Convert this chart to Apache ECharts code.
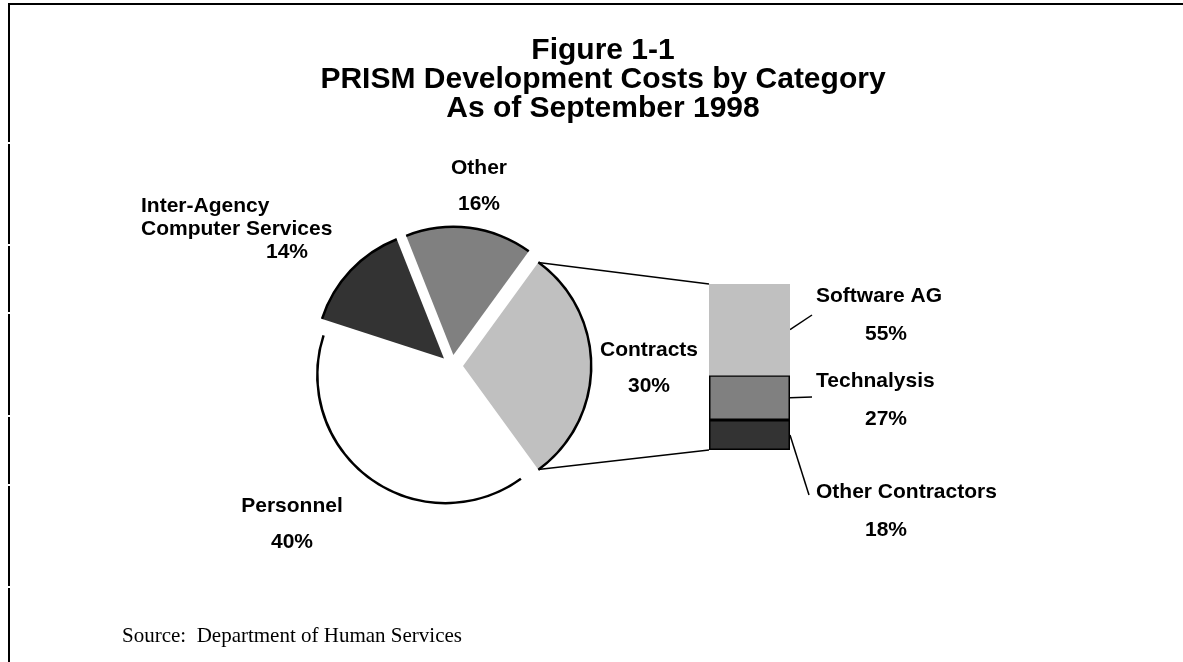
<!DOCTYPE html>
<html>
<head>
<meta charset="utf-8">
<script src="https://cdn.jsdelivr.net/npm/echarts@6/dist/echarts.min.js"></script>
<style>
html,body{margin:0;padding:0;background:#fff;}
#chart{width:1183px;height:662px;}
</style>
</head>
<body>
<div id="chart"></div>
<script>
// ---- data ----
const categories = ['Contracts', 'Personnel', 'Inter-Agency\nComputer Services', 'Other'];
const shares = [30, 40, 14, 16];
const subCategories = ['Other Contractors', 'Technalysis', 'Software AG']; // bottom to top
const subShares = [18, 27, 55];
const titleLines = ['Figure 1-1', 'PRISM Development Costs by Category', 'As of September 1998'];
const sourceText = 'Source:  Department of Human Services';

// ---- layout / style ----
const SANS = "'Liberation Sans', Arial, sans-serif";
const SERIF = "'Liberation Serif', 'Times New Roman', serif";
const PIE = { cx: 452, cy: 366, r: 128, offset: 11 };
const GRID = { left: 709, top: 284, width: 81, height: 166 };
const PIE_COLORS = ['#c0c0c0', '#ffffff', '#333333', '#808080'];
const BAR_COLORS = ['#333333', '#808080', '#c0c0c0'];
const BAR_BORDER = [1.5, 1.5, 0];
const PIE_LABEL_POS = [
  { x: 649, y: 368, align: 'center', style: 'c' },
  { x: 292, y: 524, align: 'center', style: 'c' },
  { x: 141, y: 229, align: 'left', style: 'l' },
  { x: 479, y: 186, align: 'center', style: 'c' }
];
const BAR_LABEL_POS = [ { x: 816, y: 511 }, { x: 816, y: 400 }, { x: 816, y: 315 } ];
const LEADER_END = [ [809, 495], [812, 397], [812, 315] ];
const FS = 21;

const startAngle = shares[0] * 360 / 100 / 2;

const chart = echarts.init(document.getElementById('chart'), null, { renderer: 'canvas' });

const pieData = categories.map((c, i) => ({
  name: c, value: shares[i], selected: true,
  itemStyle: { color: PIE_COLORS[i] },
  select: { itemStyle: { color: PIE_COLORS[i], borderWidth: 0 } }
}));
const ringData = categories.map((c, i) => ({ name: c, value: shares[i], selected: true }));

const labelFont = { fontFamily: SANS, fontWeight: 'bold', fontSize: FS, color: '#000' };
const richStyles = {
  nc: Object.assign({ lineHeight: 36 }, labelFont),
  pc: Object.assign({ lineHeight: 36 }, labelFont),
  nl: Object.assign({ lineHeight: 23 }, labelFont),
  pl: Object.assign({ lineHeight: 23, padding: [0, 0, 0, 125] }, labelFont)
};

const barSeries = subCategories.map((name, i) => ({
  type: 'bar', name: name, stack: 'contracts', data: [subShares[i]],
  barWidth: '100%', silent: true,
  itemStyle: { color: BAR_COLORS[i], borderColor: '#000', borderWidth: BAR_BORDER[i] },
  label: {
    show: true, position: 'right', color: '#000',
    formatter: p => '{n|' + p.seriesName + '}\n{p|' + p.value + '%}',
    rich: {
      n: Object.assign({ lineHeight: 38 }, labelFont),
      p: Object.assign({ lineHeight: 38, padding: [0, 0, 0, 49] }, labelFont)
    }
  },
  labelLayout: () => ({ x: BAR_LABEL_POS[i].x, y: BAR_LABEL_POS[i].y, align: 'left', verticalAlign: 'middle' }),
  emphasis: { disabled: true }
}));

const option = {
  animation: false,
  backgroundColor: '#ffffff',
  title: {
    text: titleLines.join('\n'),
    left: 598, top: 31, textAlign: 'center',
    textStyle: { fontFamily: SANS, fontWeight: 'bold', fontSize: 30, lineHeight: 29, color: '#000' }
  },
  grid: { left: GRID.left, top: GRID.top, width: GRID.width, height: GRID.height },
  xAxis: { type: 'category', data: ['Contracts'], show: false },
  yAxis: { type: 'value', min: 0, max: 100, show: false },
  series: [
    {
      type: 'pie', name: 'costs', center: [PIE.cx, PIE.cy], radius: PIE.r,
      startAngle: startAngle, clockwise: true,
      selectedMode: 'multiple', selectedOffset: PIE.offset,
      avoidLabelOverlap: false, silent: true,
      data: pieData,
      itemStyle: { borderWidth: 0 },
      label: { show: false }, labelLine: { show: false },
      emphasis: { disabled: true }
    },
    {
      type: 'pie', name: 'outline', center: [PIE.cx, PIE.cy], radius: [PIE.r - 1, PIE.r + 1.5],
      startAngle: startAngle, clockwise: true,
      selectedMode: 'multiple', selectedOffset: PIE.offset, silent: true,
      data: ringData,
      itemStyle: { color: '#000', borderWidth: 0 },
      select: { itemStyle: { color: '#000', borderWidth: 0 } },
      label: { show: false }, labelLine: { show: false },
      emphasis: { disabled: true }
    }
  ].concat(barSeries)
};
chart.setOption(option);

// ---- decorations computed from the scales ----
const g = [];
// frame
g.push({ type: 'line', shape: { x1: 8, y1: 4, x2: 1183, y2: 4 }, style: { stroke: '#000', lineWidth: 2 } });
[[3, 142], [144, 244], [246, 312], [314, 415], [417, 484], [486, 586], [588, 662]].forEach(s => {
  g.push({ type: 'line', shape: { x1: 9, y1: s[0], x2: 9, y2: s[1] }, style: { stroke: '#000', lineWidth: 2 } });
});
// pie labels (text from the data arrays)
categories.forEach((c, i) => {
  const L = PIE_LABEL_POS[i];
  const txt = c.split('\n').map(s => '{n' + L.style + '|' + s + '}').join('\n') + '\n{p' + L.style + '|' + shares[i] + '%}';
  g.push({ type: 'text', x: L.x, y: L.y, silent: true,
    style: { text: txt, rich: richStyles, align: L.align, verticalAlign: 'middle', fill: '#000',
      fontFamily: SANS, fontWeight: 'bold', fontSize: FS } });
});
// connectors from Contracts slice to the bar
const rad = d => d * Math.PI / 180;
const a0 = startAngle, a1 = startAngle - shares[0] * 3.6, mid = (a0 + a1) / 2;
const ocx = PIE.cx + PIE.offset * Math.cos(rad(mid)), ocy = PIE.cy - PIE.offset * Math.sin(rad(mid));
const pTop = [ocx + PIE.r * Math.cos(rad(a0)), ocy - PIE.r * Math.sin(rad(a0))];
const pBot = [ocx + PIE.r * Math.cos(rad(a1)), ocy - PIE.r * Math.sin(rad(a1))];
const barTopY = chart.convertToPixel({ gridIndex: 0 }, [0, 100])[1];
const barBotY = chart.convertToPixel({ gridIndex: 0 }, [0, 0])[1];
g.push({ type: 'line', shape: { x1: pTop[0], y1: pTop[1], x2: GRID.left, y2: barTopY }, style: { stroke: '#000', lineWidth: 1.5 } });
g.push({ type: 'line', shape: { x1: pBot[0], y1: pBot[1], x2: GRID.left, y2: barBotY }, style: { stroke: '#000', lineWidth: 1.5 } });
// leader lines for bar labels
let cum = 0;
subShares.forEach((v, i) => {
  const y = chart.convertToPixel({ gridIndex: 0 }, [0, cum + v / 2])[1];
  cum += v;
  g.push({ type: 'line', shape: { x1: GRID.left + GRID.width, y1: y, x2: LEADER_END[i][0], y2: LEADER_END[i][1] }, style: { stroke: '#000', lineWidth: 1.5 } });
});
// source note
g.push({ type: 'text', left: 122, top: 626, style: { text: sourceText, font: '21px ' + SERIF, fill: '#000' } });
chart.setOption({ graphic: g });
</script>
</body>
</html>
